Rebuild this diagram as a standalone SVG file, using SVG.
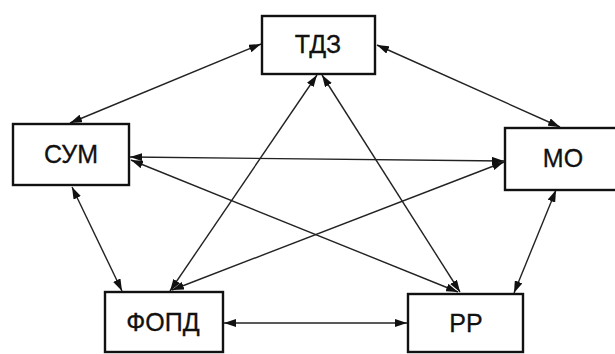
<svg xmlns="http://www.w3.org/2000/svg" width="615" height="354" viewBox="0 0 615 354">
<style>
.box{fill:#fff;stroke:#111;stroke-width:2.4}
.lbl{font-family:"Liberation Sans",Arial,sans-serif;font-size:25px;fill:#111;stroke:#111;stroke-width:0.3;text-anchor:middle}
.c{stroke:#222;stroke-width:1.4;fill:none;marker-start:url(#ah);marker-end:url(#ah)}
</style>
<defs>
<marker id="ah" viewBox="0 0 12 8" refX="12" refY="4" markerWidth="12" markerHeight="8" markerUnits="userSpaceOnUse" orient="auto-start-reverse">
<path d="M0,0 L12,4 L0,8 Z" fill="#111"/>
</marker>
</defs>
<rect width="615" height="354" fill="#fff"/>
<g id="connectors">
<line class="c" x1="261" y1="44" x2="70" y2="123"/>
<line class="c" x1="377" y1="45" x2="560" y2="127"/>
<line class="c" x1="130" y1="157" x2="504" y2="161"/>
<line class="c" x1="131" y1="160" x2="458" y2="292"/>
<line class="c" x1="172" y1="290" x2="504" y2="162"/>
<line class="c" x1="317" y1="75" x2="170" y2="291"/>
<line class="c" x1="322" y1="75" x2="460" y2="292"/>
<line class="c" x1="72" y1="187" x2="122" y2="291"/>
<line class="c" x1="556" y1="190" x2="514" y2="293"/>
<line class="c" x1="224" y1="323" x2="407" y2="323"/>
</g>
<g id="tdz"><rect class="box" x="262" y="16" width="113" height="58"/><text class="lbl" x="318" y="53">ТДЗ</text></g>
<g id="sum"><rect class="box" x="13" y="124" width="116" height="61"/><text class="lbl" x="71" y="163">СУМ</text></g>
<g id="mo"><rect class="box" x="505" y="128" width="120" height="62"/><text class="lbl" x="563" y="167">МО</text></g>
<g id="fopd"><rect class="box" x="105" y="292" width="118" height="60"/><text class="lbl" x="163" y="331">ФОПД</text></g>
<g id="rr"><rect class="box" x="408" y="294" width="115" height="58"/><text class="lbl" x="466" y="332">РР</text></g>
</svg>
